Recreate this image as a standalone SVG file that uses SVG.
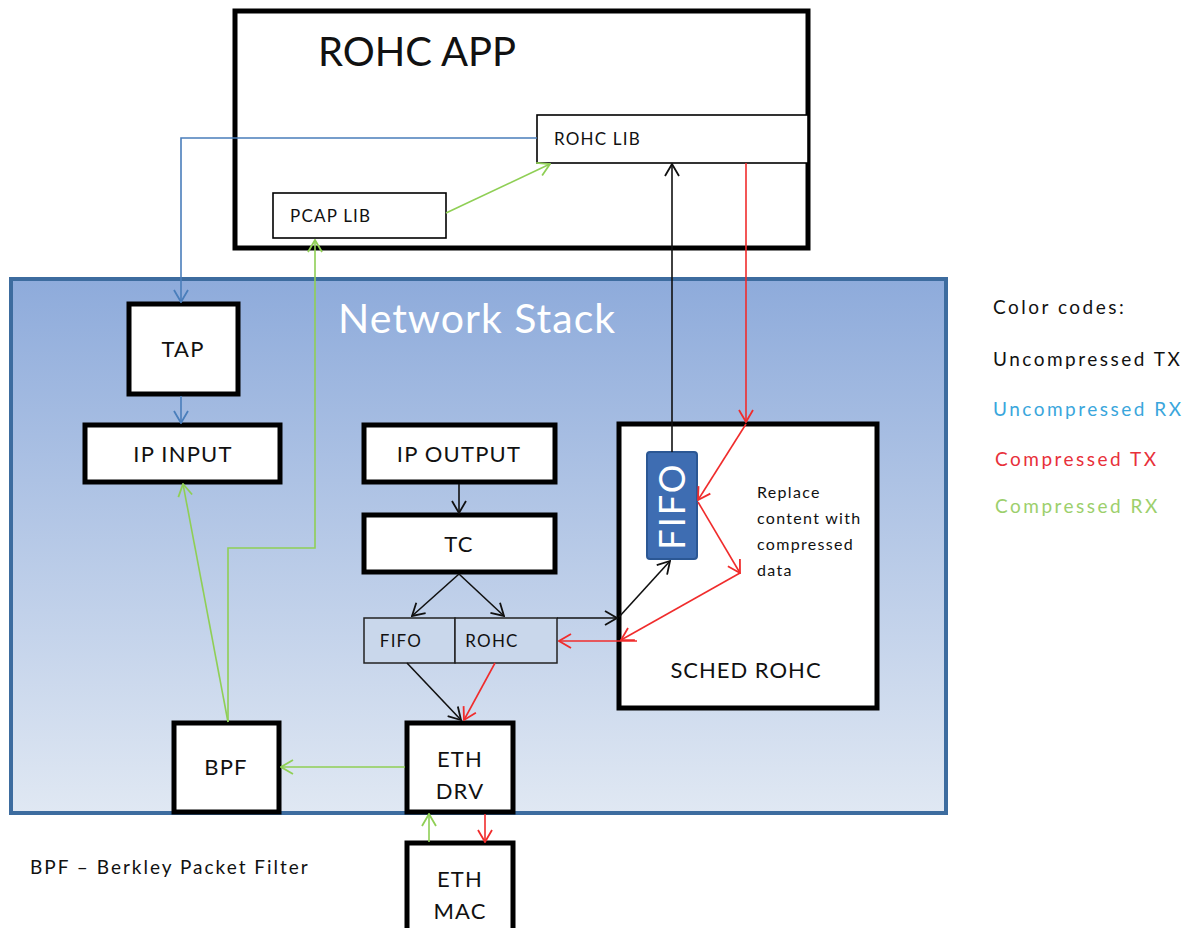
<svg xmlns="http://www.w3.org/2000/svg" width="1192" height="928" viewBox="0 0 1192 928">
  <style>
    text { font-family: Lato, "Open Sans", "Liberation Sans", sans-serif; fill: #111; }
    .thick { fill: #fff; stroke: #000; stroke-width: 5; }
    .thin { fill: #fff; stroke: #000; stroke-width: 1.6; }
    .lbl { text-anchor: middle; font-size: 22px; letter-spacing: 1.2px; }
    .small { font-size: 17px; letter-spacing: 1.2px; }
    .legend { font-size: 19px; letter-spacing: 2.5px; }
    .note { font-size: 16px; letter-spacing: 1.3px; }
    .c { fill: none; stroke-width: 1.6; }
    .k { stroke: #111; marker-end: url(#ah-k); }
    .b { stroke: #4a7ebb; marker-end: url(#ah-b); }
    .g { stroke: #8fcf55; marker-end: url(#ah-g); }
    .r { stroke: #f02c2c; marker-end: url(#ah-r); }
  </style>
  <defs>
    <linearGradient id="stackFill" x1="0" y1="0" x2="0" y2="1">
      <stop offset="0" stop-color="#8eabdb"/>
      <stop offset="1" stop-color="#e0e8f3"/>
    </linearGradient>
    <marker id="ah-k" viewBox="0 0 14 16" refX="13" refY="8" markerWidth="14" markerHeight="16" markerUnits="userSpaceOnUse" orient="auto">
      <path d="M1,1 L13,8 L1,15" fill="none" stroke="#111" stroke-width="1.8"/>
    </marker>
    <marker id="ah-b" viewBox="0 0 14 16" refX="13" refY="8" markerWidth="14" markerHeight="16" markerUnits="userSpaceOnUse" orient="auto">
      <path d="M1,1 L13,8 L1,15" fill="none" stroke="#4a7ebb" stroke-width="1.8"/>
    </marker>
    <marker id="ah-g" viewBox="0 0 14 16" refX="13" refY="8" markerWidth="14" markerHeight="16" markerUnits="userSpaceOnUse" orient="auto">
      <path d="M1,1 L13,8 L1,15" fill="none" stroke="#8fcf55" stroke-width="1.8"/>
    </marker>
    <marker id="ah-r" viewBox="0 0 14 16" refX="13" refY="8" markerWidth="14" markerHeight="16" markerUnits="userSpaceOnUse" orient="auto">
      <path d="M1,1 L13,8 L1,15" fill="none" stroke="#f02c2c" stroke-width="1.8"/>
    </marker>
  </defs>

  <rect width="1192" height="928" fill="#fff"/>

  <!-- application container -->
  <g id="rohc-app">
    <rect class="thick" x="235" y="11" width="573" height="237"/>
    <text x="318" y="66" font-size="40">ROHC APP</text>
  </g>
  <g id="rohc-lib">
    <rect class="thin" x="537" y="115" width="271" height="48"/>
    <text class="small" x="554" y="145">ROHC LIB</text>
  </g>
  <g id="pcap-lib">
    <rect class="thin" x="273" y="193" width="173" height="45"/>
    <text class="small" x="290" y="222">PCAP LIB</text>
  </g>

  <!-- kernel network stack -->
  <g id="network-stack">
    <rect x="11" y="279" width="935" height="534" fill="url(#stackFill)" stroke="#3d6c9f" stroke-width="4"/>
    <text x="338" y="333" font-size="41" letter-spacing="1" style="fill:#fff">Network Stack</text>
  </g>

  <g id="tap">
    <rect class="thick" x="129" y="304" width="109" height="90"/>
    <text class="lbl" x="183" y="357">TAP</text>
  </g>
  <g id="ip-input">
    <rect class="thick" x="85" y="425" width="195" height="57"/>
    <text class="lbl" x="183" y="462">IP INPUT</text>
  </g>
  <g id="ip-output">
    <rect class="thick" x="364" y="425" width="191" height="57"/>
    <text class="lbl" x="459" y="462">IP OUTPUT</text>
  </g>
  <g id="tc">
    <rect class="thick" x="364" y="515" width="191" height="57"/>
    <text class="lbl" x="459" y="552">TC</text>
  </g>
  <g id="queue-fifo">
    <rect x="364" y="618" width="91" height="45" fill="#c9d7eb" stroke="#222" stroke-width="1.5"/>
    <text class="small" x="401" y="647" text-anchor="middle" font-size="18">FIFO</text>
  </g>
  <g id="queue-rohc">
    <rect x="455" y="618" width="102" height="45" fill="#c9d7eb" stroke="#222" stroke-width="1.5"/>
    <text class="small" x="492" y="647" text-anchor="middle" font-size="18">ROHC</text>
  </g>
  <g id="sched-rohc">
    <rect class="thick" x="619" y="424" width="258" height="284"/>
    <text x="746" y="678" text-anchor="middle" font-size="22" letter-spacing="1">SCHED ROHC</text>
    <text class="note" x="757" y="498">Replace</text>
    <text class="note" x="757" y="524">content with</text>
    <text class="note" x="757" y="550">compressed</text>
    <text class="note" x="757" y="576">data</text>
  </g>
  <g id="sched-fifo">
    <rect x="647" y="452" width="50" height="107" rx="3" fill="#3e6db2" stroke="#2b5794" stroke-width="2"/>
    <text x="0" y="0" transform="translate(685,506) rotate(-90)" text-anchor="middle" font-size="36" letter-spacing="2" style="fill:#fff">FIFO</text>
  </g>
  <g id="bpf">
    <rect class="thick" x="174" y="723" width="105" height="89"/>
    <text class="lbl" x="226" y="775">BPF</text>
  </g>
  <g id="eth-drv">
    <rect class="thick" x="407" y="723" width="106" height="89"/>
    <text class="lbl" x="460" y="767">ETH</text>
    <text class="lbl" x="460" y="799">DRV</text>
  </g>
  <g id="eth-mac">
    <rect class="thick" x="407" y="843" width="106" height="92"/>
    <text class="lbl" x="460" y="887">ETH</text>
    <text class="lbl" x="460" y="919">MAC</text>
  </g>

  <!-- colour key and footnote -->
  <g id="legend">
    <text class="legend" x="993" y="314">Color codes:</text>
    <text class="legend" x="993" y="366">Uncompressed TX</text>
    <text class="legend" x="993" y="416" style="fill:#3aa6dc">Uncompressed RX</text>
    <text class="legend" x="995" y="466" style="fill:#e8303a">Compressed TX</text>
    <text class="legend" x="995" y="513" style="fill:#9ccf6c">Compressed RX</text>
  </g>
  <g id="footnote">
    <text x="30" y="874" font-size="19" letter-spacing="2">BPF – Berkley Packet Filter</text>
  </g>

  <!-- data paths -->
  <g id="connectors">
    <!-- uncompressed RX -->
    <path class="c b" d="M537,138 H181 V302"/>
    <path class="c b" d="M181,396 V423"/>
    <!-- compressed RX -->
    <path class="c g" d="M446,213 L550,164"/>
    <path class="c g" d="M228,722 V548 H315 V240"/>
    <path class="c g" d="M228,722 L183,484"/>
    <path class="c g" d="M405,767 H281"/>
    <path class="c g" d="M429,842 V814"/>
    <!-- uncompressed TX -->
    <path class="c k" d="M459,484 V513"/>
    <path class="c k" d="M459,574 L412,616"/>
    <path class="c k" d="M459,574 L504,616"/>
    <path class="c k" d="M407,663 L461,720"/>
    <path class="c k" d="M557,618 H617"/>
    <path class="c k" d="M619,617 L670,561"/>
    <path class="c k" d="M672,452 V164"/>
    <!-- compressed TX -->
    <path class="c r" d="M746,163 V422"/>
    <path class="c r" d="M746,424 L698,500"/>
    <path class="c r" d="M698,502 L740,573"/>
    <path class="c r" d="M740,573 L621,640"/>
    <path class="c r" d="M637,641 H559"/>
    <path class="c r" d="M495,663 L464,720"/>
    <path class="c r" d="M485,814 V842"/>
  </g>
</svg>
